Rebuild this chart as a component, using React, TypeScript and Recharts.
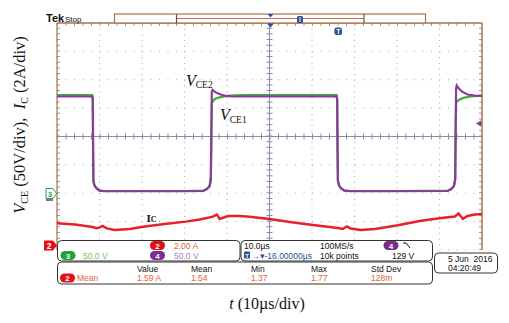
import {
  ComposedChart,
  Line,
  XAxis,
  YAxis,
  CartesianGrid,
  ReferenceLine,
} from "recharts";

// time axis: 10 us/div, 10 divisions
const xTicks = [0, 10, 20, 30, 40, 50, 60, 70, 80, 90, 100];
// VCE axis: 50 V/div, ground at -2 div
const vTicks = [-100, -50, 0, 50, 100, 150, 200, 250, 300];

// CH3 (green) VCE1
const ch3Time = [0, 8.3, 8.42, 8.5, 8.56, 8.8, 9.27, 10, 11, 20, 30, 34.4, 35.3, 35.9, 36.2, 36.33, 36.45, 37.1, 38.2, 39.6, 41.5, 44, 55, 65.8, 65.92, 66.02, 66.1, 66.35, 66.8, 67.6, 69, 80, 91.9, 92.8, 93.4, 93.7, 93.8, 93.92, 94.6, 95.8, 97.4, 100];
const ch3Volts = [173, 173, 165, 70, 22, 14, 9, 5, 4, 4, 4, 4.5, 8, 13, 25, 110, 160, 166, 169, 171, 172.5, 173, 173, 173, 165, 70, 22, 14, 9, 5, 4, 4, 4.5, 8, 13, 25, 110, 160, 165, 168.5, 170.5, 172];

// CH4 (purple) VCE2
const ch4Time = [0, 8.3, 8.42, 8.5, 8.56, 8.8, 9.27, 10, 11, 20, 30, 34.4, 35.3, 35.9, 36.2, 36.33, 36.42, 36.6, 37.1, 37.8, 38.7, 39.6, 41.5, 55, 65.8, 65.92, 66.02, 66.1, 66.35, 66.8, 67.6, 69, 80, 91.9, 92.8, 93.4, 93.7, 93.8, 93.9, 94.05, 94.6, 95.3, 96.6, 98.3, 100];
const ch4Volts = [170.5, 170.5, 165, 70, 22, 14, 9, 4.5, 3.5, 3.5, 3.5, 4, 7.5, 12.5, 25, 110, 178, 182, 179, 176, 173.5, 171.5, 170.5, 170.5, 170.5, 165, 70, 22, 14, 9, 4.5, 3.5, 3.5, 4, 7.5, 12.5, 25, 110, 185, 190, 184, 179, 174, 172, 171.5];

// CH2 (red) IC, 2 A/div
const ch2Time = [0, 4.2, 8.4, 9.3, 10.0, 10.75, 11.7, 13.6, 17.1, 20.2, 25.3, 30.3, 33.6, 36.7, 37.6, 38.3, 39.2, 40.4, 43.0, 45.3, 50.0, 54.8, 60.2, 64.2, 66.5, 67.2, 68.2, 69.1, 71.5, 74.8, 79.9, 85.3, 90.0, 93.6, 94.5, 95.5, 96.6, 98.3, 100];
const ch2Amps = [1.51, 1.43, 1.25, 1.16, 1.22, 1.32, 1.15, 1.04, 1.11, 1.27, 1.46, 1.63, 1.78, 1.98, 2.13, 1.82, 1.92, 2.03, 2.03, 1.98, 1.82, 1.61, 1.39, 1.25, 1.16, 1.11, 1.29, 1.15, 1.04, 1.11, 1.36, 1.68, 1.87, 1.99, 2.2, 1.82, 2.03, 2.13, 2.17];

// readouts
const measureHeaders = ["Value", "Mean", "Min", "Max", "Std Dev"];
const measureValues = ["1.59 A", "1.54", "1.37", "1.77", "128m"];
const measureX = [137, 191, 251, 311, 371];

const ch3Data = ch3Time.map((t, i) => ({ t, v: ch3Volts[i] }));
const ch4Data = ch4Time.map((t, i) => ({ t, v: ch4Volts[i] }));
const ch2Data = ch2Time.map((t, i) => ({ t, a: ch2Amps[i] }));

const FRAME = "#a8764c";
const GRID = "#a9a9a9";
const AXIS = "#8a8aa6";
const MONO = "Liberation Sans, Arial, sans-serif";
const SERIF = "Liberation Serif, Times New Roman, serif";

function Pill({ cx, cy, label, fill }: { cx: number; cy: number; label: string; fill: string }) {
  return (
    <g>
      <rect x={cx - 7.5} y={cy - 4.5} width={15} height={9} rx={4.5} fill={fill} />
      <text x={cx} y={cy + 3} textAnchor="middle" fill="#fff" fontSize={8} fontWeight="bold" fontFamily={MONO}>
        {label}
      </text>
    </g>
  );
}

function Overlay() {
  return (
    <svg width={509} height={323} style={{ position: "absolute", left: 0, top: 0, pointerEvents: "none" }}>
      {/* top status */}
      <text x={46} y={22} fontFamily={MONO} fontSize={11} fontWeight="bold" fill="#111">Tek</text>
      <text x={65} y={22} fontFamily={MONO} fontSize={8} fill="#111">Stop</text>
      <rect x={114.5} y={14} width={311} height={9} fill="#fff" stroke={FRAME} strokeWidth={1.2} />
      <line x1={176.5} y1={18.5} x2={364} y2={18.5} stroke="#e0654a" strokeWidth={1} />
      <line x1={176.5} y1={14} x2={176.5} y2={23} stroke="#555" strokeWidth={1.2} />
      <line x1={364} y1={14} x2={364} y2={23} stroke="#555" strokeWidth={1.2} />
      <path d="M267.5 14 L273.5 14 L270.5 17.5 Z" fill="#2a4f9a" />
      <path d="M267 23.5 L274 23.5 L270.5 27.5 Z" fill="#2a4f9a" />
      <rect x={297} y={16} width={6} height={7} rx={1.5} fill="#2a4f9a" />
      <line x1={300} y1={17} x2={300} y2={22} stroke="#fff" strokeWidth={1} />
      <rect x={334.5} y={27.5} width={7.5} height={7.5} rx={2} fill="#2a4f9a" />
      <text x={338.3} y={34} textAnchor="middle" fontSize={7} fontWeight="bold" fill="#fff" fontFamily={MONO}>T</text>

      {/* channel markers */}
      <path d="M46 188.5 L53 188.5 L56.5 193.5 L53 198.5 L46 198.5 Z" fill="#fff" stroke="#2ea043" strokeWidth={1} />
      <text x={50} y={196.5} textAnchor="middle" fontSize={8} fill="#2ea043" fontFamily={MONO} fontWeight="bold">3</text>
      <line x1={46} y1={200} x2={53} y2={200} stroke="#7a2d8a" strokeWidth={1.5} />
      <path d="M44 240.5 L53 240.5 L57 245.5 L53 250.5 L44 250.5 Z" fill="#e01018" />
      <text x={49} y={248.5} textAnchor="middle" fontSize={8.5} fill="#fff" fontFamily={MONO} fontWeight="bold">2</text>
      <path d="M476 123.5 L481 120.5 L481 126.5 Z" fill="#8b3a9b" />
      <line x1={479} y1={123.5} x2={482} y2={123.5} stroke="#8b3a9b" strokeWidth={1.5} />

      {/* trace labels */}
      <text x={186} y={86} fontFamily={SERIF} fontSize={16} fill="#111">
        <tspan fontStyle="italic">V</tspan>
        <tspan fontSize={9.5} dy={1.5}>CE2</tspan>
      </text>
      <text x={220} y={120} fontFamily={SERIF} fontSize={16} fill="#111">
        <tspan fontStyle="italic">V</tspan>
        <tspan fontSize={9.5} dy={3}>CE1</tspan>
      </text>
      <text x={146.5} y={222} fontFamily={SERIF} fontWeight="bold" fill="#111">
        <tspan fontSize={11}>I</tspan>
        <tspan fontSize={8}>C</tspan>
      </text>

      {/* axis titles */}
      <text
        transform="translate(25,125) rotate(-90)"
        textAnchor="middle"
        fontFamily={SERIF}
        fontSize={16.5}
        fill="#111"
        style={{ whiteSpace: "pre" }}
      >
        <tspan fontStyle="italic">V</tspan>
        <tspan fontSize={10} dy={3}>CE</tspan>
        <tspan dy={-3}>{" (50V/div),  "}</tspan>
        <tspan fontStyle="italic">I</tspan>
        <tspan fontSize={10} dy={3}>C</tspan>
        <tspan dy={-3}>{" (2A/div)"}</tspan>
      </text>
      <text x={267} y={309} textAnchor="middle" fontFamily={SERIF} fontSize={16} fill="#111">
        <tspan fontStyle="italic">t</tspan>
        <tspan>{" (10µs/div)"}</tspan>
      </text>

      {/* readout boxes */}
      <rect x={57.5} y={240.5} width={182.5} height={20.5} rx={4} fill="#fff" stroke="#333" strokeWidth={1} />
      <rect x={241} y={240.5} width={191.5} height={20.5} rx={4} fill="#fff" stroke="#333" strokeWidth={1} />
      <rect x={57.5} y={262} width={375} height={22} rx={4} fill="#fff" stroke="#333" strokeWidth={1} />
      <rect x={434.5} y={253} width={63} height={20} rx={4} fill="#fff" stroke="#333" strokeWidth={1} />

      <g fontFamily={MONO} fontSize={8.5}>
        <Pill cx={68} cy={255.5} label="3" fill="#23a136" />
        <text x={83} y={258.5} fill="#7cc262">50.0 V</text>
        <Pill cx={157.5} cy={245.5} label="2" fill="#e01018" />
        <text x={174} y={248.5} fill="#e8603a">2.00 A</text>
        <Pill cx={157.5} cy={255.5} label="4" fill="#7a2d8a" />
        <text x={174} y={258.5} fill="#b07ec6">50.0 V</text>

        <text x={244} y={248.5} fill="#111">10.0µs</text>
        <text x={320} y={248.5} fill="#111">100MS/s</text>
        <Pill cx={391} cy={245.5} label="4" fill="#7a2d8a" />
        <path d="M403 243 L406 243 L410 248" fill="none" stroke="#111" strokeWidth={1} />
        <rect x={244} y={251.5} width={6} height={7} rx={1} fill="#2a4f9a" />
        <text x={247} y={257.5} textAnchor="middle" fill="#fff" fontSize={6} fontWeight="bold">T</text>
        <text x={251} y={258.5} fill="#2a4f9a">→▾-16.00000µs</text>
        <text x={320} y={258.5} fill="#111">10k points</text>
        <text x={392} y={258.5} fill="#111">129 V</text>

        {measureHeaders.map((h, i) => (
          <text key={h} x={measureX[i]} y={271.5} fill="#111">{h}</text>
        ))}
        <Pill cx={67.5} cy={278} label="2" fill="#e01018" />
        <text x={77} y={281} fill="#e8603a">Mean</text>
        {measureValues.map((v, i) => (
          <text key={i} x={measureX[i]} y={281} fill="#e8603a">{v}</text>
        ))}

        <text x={448} y={262} fill="#111" style={{ whiteSpace: "pre" }}>{"5 Jun  2016"}</text>
        <text x={448} y={271} fill="#111">04:20:49</text>
      </g>
    </svg>
  );
}

export default function App() {
  return (
    <div style={{ position: "absolute", left: 0, top: 0, width: 509, height: 323, background: "#fff" }}>
      <ComposedChart width={509} height={323} margin={{ top: 23, right: 27, bottom: 73, left: 57 }}>
        <XAxis type="number" dataKey="t" domain={[0, 100]} ticks={xTicks} hide allowDataOverflow />
        <YAxis yAxisId="v" type="number" domain={[-100, 300]} ticks={vTicks} hide allowDataOverflow />
        <YAxis yAxisId="i" type="number" domain={[-0.37, 15.63]} hide allowDataOverflow />

        <CartesianGrid yAxisId="v" horizontal={false} stroke={GRID} strokeDasharray="1 4.675" />
        <CartesianGrid yAxisId="v" vertical={false} stroke={GRID} strokeDasharray="1 7.5" />

        {/* center cross with minor ticks */}
        <ReferenceLine yAxisId="v" x={50} stroke={AXIS} strokeWidth={1} />
        <ReferenceLine yAxisId="v" x={50} stroke={AXIS} strokeWidth={6} strokeDasharray="1 4.675" />
        <ReferenceLine yAxisId="v" y={100} stroke={AXIS} strokeWidth={1} />
        <ReferenceLine yAxisId="v" y={100} stroke={AXIS} strokeWidth={6} strokeDasharray="1 7.5" />

        {/* edge ticks */}
        <ReferenceLine yAxisId="v" y={297.4} stroke="#999" strokeWidth={3} strokeDasharray="1 7.5" />
        <ReferenceLine yAxisId="v" x={0.35} stroke="#999" strokeWidth={3} strokeDasharray="1 4.675" />
        <ReferenceLine yAxisId="v" x={99.65} stroke="#999" strokeWidth={3} strokeDasharray="1 4.675" />

        {/* frame */}
        <ReferenceLine yAxisId="v" x={0} stroke={FRAME} strokeWidth={1.2} />
        <ReferenceLine yAxisId="v" x={100} stroke={FRAME} strokeWidth={1.5} />
        <ReferenceLine yAxisId="v" y={300} stroke={FRAME} strokeWidth={1.5} />

        <Line
          data={ch2Data}
          yAxisId="i"
          dataKey="a"
          type="linear"
          stroke="#e8202a"
          strokeWidth={2.5}
          dot={false}
          isAnimationActive={false}
        />
        <Line
          data={ch3Data}
          yAxisId="v"
          dataKey="v"
          type="linear"
          stroke="#3fae3f"
          strokeWidth={2.2}
          dot={false}
          isAnimationActive={false}
        />
        <Line
          data={ch4Data}
          yAxisId="v"
          dataKey="v"
          type="linear"
          stroke="#8b3a9b"
          strokeWidth={2.2}
          dot={false}
          isAnimationActive={false}
        />
      </ComposedChart>
      <Overlay />
    </div>
  );
}
